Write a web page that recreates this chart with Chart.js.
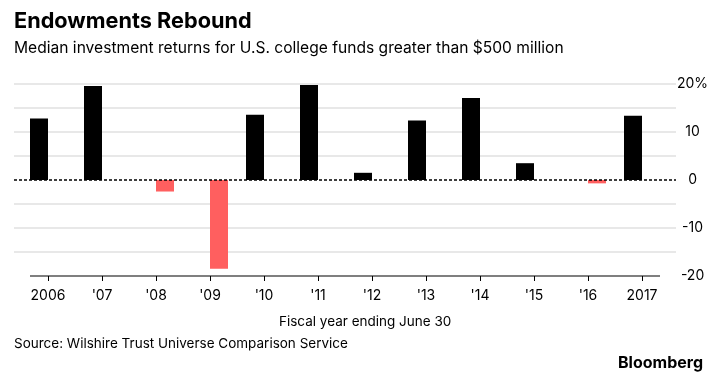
<!DOCTYPE html>
<html><head><meta charset="utf-8">
<script src="https://cdn.jsdelivr.net/npm/chart.js@4"></script>
<style>
html,body{margin:0;padding:0;background:#fff;width:716px;height:374px;overflow:hidden;font-family:Inter,"Liberation Sans",sans-serif;color:#000}
#wrap{position:relative;width:716px;height:374px}
canvas{position:absolute;left:0;top:0}
.t{position:absolute;white-space:nowrap;line-height:normal;margin:0}
</style></head><body>
<div id="wrap">
<canvas id="c" width="716" height="374"></canvas>
<div class="t" style="left:14px;top:6.5px;font-size:21.7px;font-weight:700">Endowments Rebound</div>
<div class="t" style="left:14px;top:38px;font-size:15.6px">Median investment returns for U.S. college funds greater than $500 million</div>
<div class="t" style="left:279px;top:312.6px;font-size:13.5px">Fiscal year ending June 30</div>
<div class="t" style="left:14px;top:335.3px;font-size:13.5px">Source: Wilshire Trust Universe Comparison Service</div>
<div class="t" style="right:13px;top:352px;font-size:16px;font-weight:700">Bloomberg</div>
</div>
<script>
const years = ['2006', "'07", "'08", "'09", "'10", "'11", "'12", "'13", "'14", "'15", "'16", '2017'];
const returns = [12.8, 19.6, -2.4, -18.5, 13.6, 19.8, 1.5, 12.4, 17.1, 3.5, -0.7, 13.4];
const gains = returns.map(v => v >= 0 ? v : null);
const losses = returns.map(v => v < 0 ? v : null);
const yTickValues = [-20, -10, 0, 10, 20];
const yTickLabels = ['-20', '-10', '0', '10', '20%'];

const FONT = 'Inter, "Liberation Sans", sans-serif';

const linesPlugin = {
  id: 'lines',
  beforeDatasetsDraw(chart) {
    const {ctx, chartArea: ca, scales: {y}} = chart;
    const ext = 7;
    ctx.save();
    ctx.strokeStyle = '#e0e0e0';
    ctx.lineWidth = 1.5;
    y.ticks.forEach(t => {
      if (t.value === 0 || t.value === y.min) return;
      const py = y.getPixelForValue(t.value);
      ctx.beginPath();
      ctx.moveTo(ca.left - ext, py);
      ctx.lineTo(ca.right + ext, py);
      ctx.stroke();
    });
    ctx.restore();
  },
  afterDatasetsDraw(chart) {
    const {ctx, chartArea: ca, scales: {y}} = chart;
    const ext = 7;
    ctx.save();
    const p0 = y.getPixelForValue(0);
    ctx.strokeStyle = '#000';
    ctx.lineWidth = 1.5;
    ctx.setLineDash([3, 2]);
    ctx.beginPath();
    ctx.moveTo(ca.left - ext, p0);
    ctx.lineTo(ca.right + ext, p0);
    ctx.stroke();
    ctx.setLineDash([]);
    const m0 = chart.getDatasetMeta(0).data;
    const m1 = chart.getDatasetMeta(1).data;
    const first = m0[0], last = m1[m1.length - 1];
    const pb = y.getPixelForValue(y.min);
    ctx.lineWidth = 1.2;
    ctx.beginPath();
    ctx.moveTo(first.x - first.width / 2, pb);
    ctx.lineTo(last.x + last.width / 2, pb);
    ctx.stroke();
    ctx.restore();
  }
};

new Chart(document.getElementById('c'), {
  type: 'bar',
  data: {
    labels: years,
    datasets: [
      {data: gains, backgroundColor: '#000', categoryPercentage: 36/54, barPercentage: 1},
      {data: losses, backgroundColor: '#ff5f5f', categoryPercentage: 36/54, barPercentage: 1}
    ]
  },
  options: {
    responsive: false,
    animation: false,
    layout: {padding: {left: 21, top: 84, right: 0, bottom: 0}},
    plugins: {legend: {display: false}, tooltip: {enabled: false}, title: {display: false}},
    scales: {
      x: {
        offset: true,
        grid: {offset: false, drawOnChartArea: false, drawTicks: true, tickLength: 5, color: '#000', lineWidth: 1},
        border: {display: false},
        ticks: {color: '#000', font: {family: FONT, size: 14}, padding: 6, maxRotation: 0, autoSkip: false},
        afterFit(s) { s.height = 98; }
      },
      y: {
        position: 'right',
        min: -20, max: 20,
        grid: {display: false},
        border: {display: false},
        ticks: {
          stepSize: 5,
          autoSkip: false,
          color: '#000',
          font: {family: FONT, size: 14},
          padding: 0,
          crossAlign: 'center',
          callback: v => { const i = yTickValues.indexOf(v); return i >= 0 ? yTickLabels[i] : ''; }
        },
        afterFit(s) { s.width = 47; }
      }
    }
  },
  plugins: [linesPlugin]
});
</script>
</body></html>
